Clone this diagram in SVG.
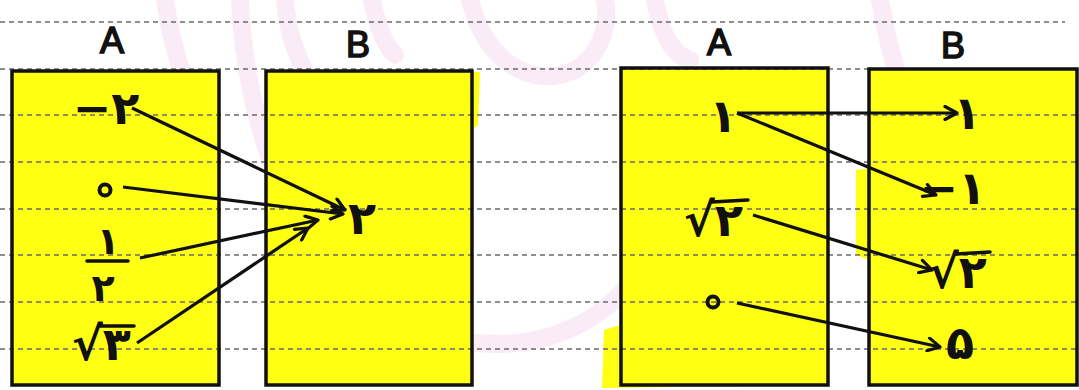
<svg xmlns="http://www.w3.org/2000/svg" width="1079" height="390" viewBox="0 0 1079 390">
<defs>
<marker id="ah" viewBox="0 0 16 16" refX="14" refY="8" markerWidth="16" markerHeight="16" markerUnits="userSpaceOnUse" orient="auto">
<path d="M2,1.5 L14,8 L2,14.5" fill="none" stroke="#111" stroke-width="3.2" stroke-linecap="round" stroke-linejoin="round"/>
</marker>
</defs>
<style>
.bg{fill:#ffffff}
.pink{fill:none;stroke:#e6a9dc;stroke-width:18;stroke-linecap:round;opacity:0.22}
.hl{fill:#ffff14}
.rule{stroke:#6a6a6a;stroke-width:1.5;stroke-dasharray:5 4;fill:none}
.box{fill:none;stroke:#111;stroke-width:3.5}
.lbl{font-family:"Liberation Sans",sans-serif;font-size:36px;fill:#111;stroke:#111;stroke-width:1.6;text-anchor:middle}
.num{font-family:"DejaVu Sans",sans-serif;font-weight:bold;font-size:46px;fill:#111;text-anchor:middle}
.rad{font-family:"DejaVu Sans",sans-serif;font-weight:bold;font-size:46px;fill:#111;letter-spacing:-8px}
.frac{font-family:"DejaVu Sans",sans-serif;font-weight:bold;font-size:38px;fill:#111;text-anchor:middle}
.bar{stroke:#111;stroke-width:3.5;stroke-linecap:round;fill:none}
.ring{fill:none;stroke:#111;stroke-width:4}
.arr{stroke:#111;stroke-width:3.2;fill:none;marker-end:url(#ah)}
</style>
<rect class="bg" x="0" y="0" width="1079" height="390"/>
<g id="watermark">
<path class="pink" d="M165,0 C170,35 178,60 188,95"/>
<path class="pink" d="M240,0 C245,120 290,280 420,330 C520,365 600,330 640,270"/>
<path class="pink" d="M285,0 C290,60 320,110 360,118"/>
<path class="pink" d="M372,0 C378,30 385,45 395,55"/>
<path class="pink" d="M470,0 C485,60 530,90 575,70 C600,55 610,25 605,0"/>
<path class="pink" d="M655,0 C660,30 672,55 690,60"/>
<path class="pink" d="M880,0 C885,25 888,45 895,65"/>
</g>
<g id="highlight">
<rect class="hl" x="11" y="72" width="208" height="313"/>
<path class="hl" d="M266,72 L480,72 L478,125 L472,130 L472,385 L266,385 Z"/>
<path class="hl" d="M620,70 L828,70 L828,385 L602,388 L604,330 L620,325 Z"/>
<path class="hl" d="M869,70 L1077,70 L1077,385 L869,385 L869,260 L856,255 L856,170 L869,168 Z"/>
</g>
<g id="ruled">
<line class="rule" x1="0" y1="22" x2="1065" y2="22"/>
<line class="rule" x1="0" y1="69" x2="1079" y2="69"/>
<line class="rule" x1="0" y1="115" x2="1079" y2="115"/>
<line class="rule" x1="0" y1="162" x2="1079" y2="162"/>
<line class="rule" x1="0" y1="209" x2="1079" y2="209"/>
<line class="rule" x1="0" y1="255" x2="1079" y2="255"/>
<line class="rule" x1="0" y1="302" x2="1079" y2="302"/>
<line class="rule" x1="0" y1="349" x2="1079" y2="349"/>
</g>
<g id="setA1">
<rect class="box" x="12" y="71" width="207" height="314"/>
<text class="lbl" x="112" y="53">A</text>
<g id="a1-m2"><text class="num" x="106" y="124">−۲</text></g>
<g id="a1-0"><circle class="ring" cx="105" cy="190" r="5.5"/></g>
<g id="a1-half">
<text class="frac" x="108" y="254">۱</text>
<line class="bar" x1="87" y1="261" x2="128" y2="261"/>
<text class="frac" x="103" y="301">۲</text>
</g>
<g id="a1-sqrt3">
<text class="rad" x="72" y="360">√۳</text>
<line class="bar" x1="100" y1="326" x2="134" y2="326"/>
</g>
</g>
<g id="setB1">
<rect class="box" x="266" y="71" width="206" height="314"/>
<text class="lbl" x="358" y="57">B</text>
<g id="b1-2"><text class="num" x="362" y="234">۲</text></g>
</g>
<g id="setA2">
<rect class="box" x="621" y="68" width="207" height="317"/>
<text class="lbl" x="719" y="55">A</text>
<g id="a2-1"><text class="num" x="723" y="132">۱</text></g>
<g id="a2-sqrt2">
<text class="rad" x="684" y="236">√۲</text>
<line class="bar" x1="712" y1="202" x2="748" y2="200"/>
</g>
<g id="a2-0"><circle class="ring" cx="713" cy="302" r="5.5"/></g>
</g>
<g id="setB2">
<rect class="box" x="869" y="69" width="208" height="316"/>
<text class="lbl" x="953" y="58">B</text>
<g id="b2-1"><text class="num" x="967" y="129">۱</text></g>
<g id="b2-m1"><text class="num" x="986" y="204" style="text-anchor:end">−۱</text></g>
<g id="b2-sqrt2">
<text class="rad" x="928" y="288">√۲</text>
<line class="bar" x1="956" y1="254" x2="990" y2="252"/>
</g>
<g id="b2-5"><text class="num" x="960" y="359">۵</text></g>
</g>
<g id="connectors">
<line class="arr" x1="132" y1="108" x2="345" y2="210"/>
<line class="arr" x1="123" y1="187" x2="343" y2="214"/>
<line class="arr" x1="140" y1="258" x2="318" y2="220"/>
<line class="arr" x1="137" y1="343" x2="308" y2="228"/>
<line class="arr" x1="737" y1="113" x2="957" y2="113"/>
<line class="arr" x1="737" y1="113" x2="936" y2="195"/>
<line class="arr" x1="753" y1="215" x2="932" y2="270"/>
<line class="arr" x1="737" y1="303" x2="940" y2="347"/>
</g>
</svg>
